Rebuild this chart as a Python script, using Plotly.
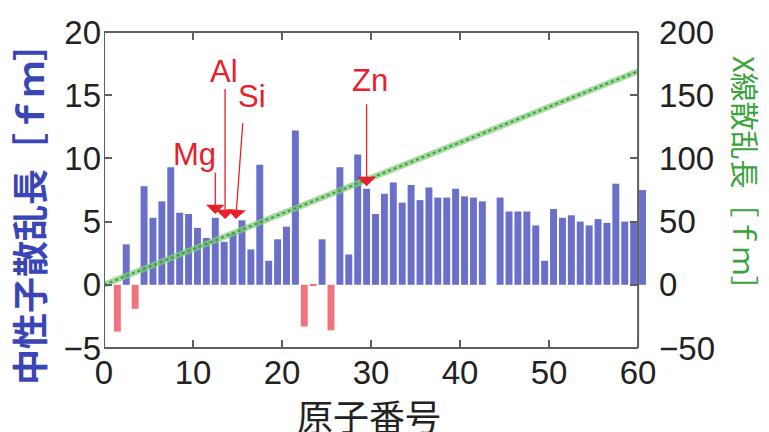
import plotly.graph_objects as go

# Atomic number Z and coherent neutron scattering length [fm]
atomic_number = list(range(1, 61))
neutron_fm = [
    -3.7, 3.2, -1.9, 7.8, 5.3, 6.6, 9.3, 5.7, 5.6, 4.5,
    3.7, 5.3, 3.4, 4.1, 5.1, 2.8, 9.5, 1.9, 3.6, 4.6,
    12.2, -3.3, -0.1, 3.6, -3.6, 9.3, 2.4, 10.3, 7.6, 5.6,
    7.2, 8.1, 6.5, 7.9, 6.7, 7.7, 6.9, 6.9, 7.6, 7.0,
    6.9, 6.6, None, 6.9, 5.8, 5.8, 5.8, 4.7, 1.9, 6.0,
    5.3, 5.5, 5.0, 4.7, 5.2, 4.9, 8.0, 5.0, 4.9, 7.5,
]

# X-ray scattering length [fm] (straight line in Z)
xray_z = [0, 60]
xray_fm = [0, 169]

# Highlighted elements
element_names = ["Mg", "Al", "Si", "Zn"]
element_z = [12, 13, 14, 30]

# Placement of each element label: arrow tip / tail and text position (axis units)
label_layout = {
    "Mg": dict(tip=(0.5, 5.6), tail=(0.5, 9.0), text=(-1.85, 10.3)),
    "Al": dict(tip=(0.6, 5.2), tail=(0.6, 15.6), text=(0.5, 16.9)),
    "Si": dict(tip=(0.8, 5.2), tail=(1.6, 12.9), text=(2.6, 14.9)),
    "Zn": dict(tip=(-0.5, 7.8), tail=(-0.5, 14.4), text=(-0.1, 16.2)),
}

BLUE = "#6a6fc9"
PINK = "#f0737d"
RED = "#e8202c"
FRAME = "#5f5f5f"
X_MAX = 61.0
X_AXIS_END = 60

bar_colors = [PINK if (v is not None and v < 0) else BLUE for v in neutron_fm]

fig = go.Figure()

fig.add_trace(go.Bar(
    x=atomic_number, y=neutron_fm,
    width=0.78, offset=0.11,
    marker=dict(color=bar_colors, line=dict(width=0)),
    yaxis="y", showlegend=False,
))

# X-ray line: light green band with a darker dotted core
fig.add_trace(go.Scatter(
    x=xray_z, y=xray_fm, mode="lines", yaxis="y2",
    line=dict(color="rgba(130,205,120,0.75)", width=6),
    showlegend=False,
))
fig.add_trace(go.Scatter(
    x=xray_z, y=xray_fm, mode="lines", yaxis="y2",
    line=dict(color="#3d9a45", width=2, dash="dot"),
    showlegend=False,
))

tick_font = dict(family="Liberation Sans, Arial, sans-serif", size=33, color="#222222")

annotations = []
for name, z in zip(element_names, element_z):
    lay = label_layout[name]
    annotations.append(dict(
        x=z + lay["tip"][0], y=lay["tip"][1],
        ax=z + lay["tail"][0], ay=lay["tail"][1],
        xref="x", yref="y", axref="x", ayref="y",
        text="", showarrow=True,
        arrowhead=1, arrowsize=2.4, arrowwidth=1.3, arrowcolor=RED,
        standoff=0,
    ))
    annotations.append(dict(
        x=z + lay["text"][0], y=lay["text"][1], xref="x", yref="y",
        text=name, showarrow=False, xanchor="center", yanchor="middle",
        font=dict(family="Liberation Sans, Arial, sans-serif", size=31, color=RED),
    ))

# Axis titles (placed in pixels, converted to paper coordinates below)
titles = [
    dict(x=28, y=205, text="<b>中性子散乱長［ｆｍ］</b>", textangle=-90,
         font=dict(family="Noto Sans CJK JP", size=36, color="#3b46b6")),
    dict(x=369, y=415, text="原子番号", textangle=0,
         font=dict(family="Noto Sans CJK JP", size=36, color="#222222")),
    dict(x=746, y=180, text="X線散乱長［ｆｍ］", textangle=90,
         font=dict(family="Noto Sans CJK JP", size=29, color="#3aa33c")),
]

W, H = 769, 432
ML, MR, MT, MB = 104, 122, 32, 84
pw, ph = W - ML - MR, H - MT - MB

for t in titles:
    annotations.append(dict(
        x=(t["x"] - ML) / pw, y=1 - (t["y"] - MT) / ph,
        xref="paper", yref="paper", text=t["text"], textangle=t["textangle"],
        showarrow=False, xanchor="center", yanchor="middle", font=t["font"],
    ))

# Frame drawn to end at Z = 60
frame = dict(color=FRAME, width=2)
shapes = [
    dict(type="line", xref="x", yref="paper", x0=0, x1=0, y0=0, y1=1, line=frame),
    dict(type="line", xref="x", yref="paper", x0=X_AXIS_END, x1=X_AXIS_END, y0=0, y1=1, line=frame),
    dict(type="line", xref="x", yref="paper", x0=0, x1=X_AXIS_END, y0=0, y1=0, line=frame),
    dict(type="line", xref="x", yref="paper", x0=0, x1=X_AXIS_END, y0=1, y1=1, line=frame),
]

fig.update_layout(
    width=W, height=H,
    margin=dict(l=ML, r=MR, t=MT, b=MB),
    paper_bgcolor="white", plot_bgcolor="white",
    barmode="overlay",
    xaxis=dict(
        range=[0, X_MAX], tickvals=[0, 10, 20, 30, 40, 50, 60],
        ticks="inside", ticklen=8, tickwidth=1.5, tickcolor=FRAME,
        mirror="ticks", showline=False, showgrid=False, zeroline=False,
        tickfont=tick_font, ticklabelstandoff=2,
    ),
    yaxis=dict(
        range=[-5, 20], dtick=5,
        ticks="inside", ticklen=8, tickwidth=1.5, tickcolor=FRAME,
        showline=False, showgrid=False, zeroline=False,
        tickfont=tick_font, ticklabelstandoff=2,
    ),
    yaxis2=dict(
        range=[-50, 200], dtick=50, overlaying="y", side="right",
        anchor="free", position=X_AXIS_END / X_MAX,
        ticks="inside", ticklen=8, tickwidth=1.5, tickcolor=FRAME,
        showline=False, showgrid=False, zeroline=False,
        tickfont=tick_font, ticklabelstandoff=20,
    ),
    annotations=annotations,
    shapes=shapes,
)

fig.write_html("out.html")
